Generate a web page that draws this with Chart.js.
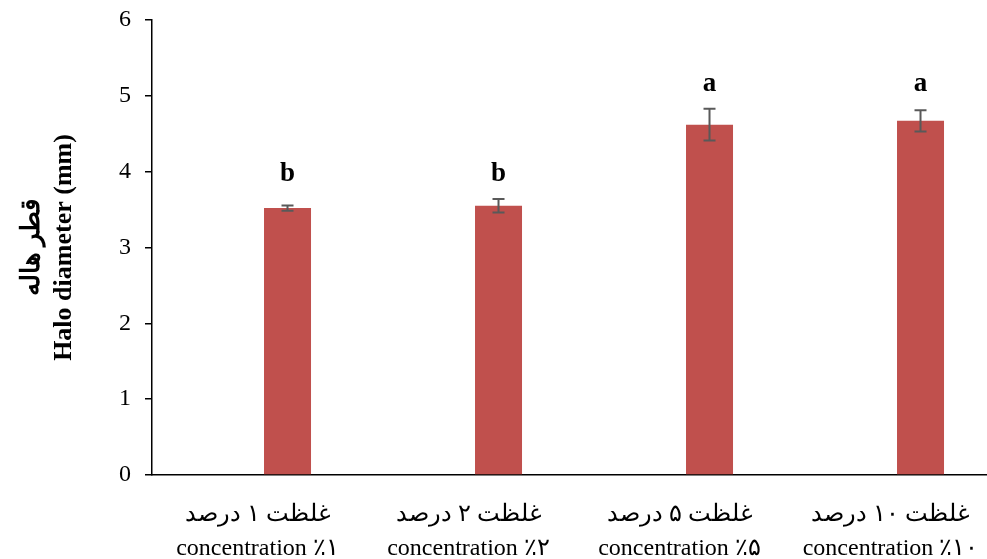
<!DOCTYPE html>
<html>
<head>
<meta charset="utf-8">
<script src="https://cdn.jsdelivr.net/npm/chart.js@4.4.0/dist/chart.umd.min.js"></script>
<style>
  html, body { margin: 0; padding: 0; background: #fff; overflow: hidden; }
  #wrap { width: 1000px; height: 559px; }
</style>
</head>
<body>
<div id="wrap"><canvas id="haloChart" width="1000" height="559"></canvas></div>
<script>
// halo diameter per concentration, with SE and letter groups
const categories = [
    ['غلظت ۱ درصد', 'concentration ٪۱'],
    ['غلظت ۲ درصد', 'concentration ٪۲'],
    ['غلظت ۵ درصد', 'concentration ٪۵'],
    ['غلظت ۱۰ درصد', 'concentration ٪۱۰']
];
const haloMeans = [3.52, 3.55, 4.62, 4.67];
const haloErrors = [0.035, 0.09, 0.21, 0.14];
const groupLetters = ['b', 'b', 'a', 'a'];
const yTicks = [0, 1, 2, 3, 4, 5, 6];

const serif = "'Liberation Serif', 'Times New Roman', serif";

// error bars + significance letters on the visible series
const errorBarPlugin = {
    id: 'errorBars',
    afterDatasetsDraw(chart) {
        const ctx = chart.ctx;
        const y = chart.scales.y;
        const meta = chart.getDatasetMeta(1);
        const tops = meta.data.map((bar, i) => y.getPixelForValue(haloMeans[i] + haloErrors[i]));

        ctx.save();
        ctx.strokeStyle = '#595959';
        ctx.lineWidth = 2;
        meta.data.forEach((bar, i) => {
            const yTop = tops[i];
            const yBot = y.getPixelForValue(haloMeans[i] - haloErrors[i]);
            ctx.beginPath();
            ctx.moveTo(bar.x, yTop);
            ctx.lineTo(bar.x, yBot);
            ctx.moveTo(bar.x - 6, yTop);
            ctx.lineTo(bar.x + 6, yTop);
            ctx.moveTo(bar.x - 6, yBot);
            ctx.lineTo(bar.x + 6, yBot);
            ctx.stroke();
        });

        // letters sit at a common height for each letter group
        ctx.fillStyle = '#000';
        ctx.font = 'bold 27px ' + serif;
        ctx.textAlign = 'center';
        ctx.textBaseline = 'middle';
        meta.data.forEach((bar, i) => {
            let top = tops[i];
            groupLetters.forEach((l, j) => {
                if (l === groupLetters[i]) top = Math.min(top, tops[j]);
            });
            ctx.fillText(groupLetters[i], bar.x, top - 25);
        });
        ctx.restore();
    }
};

new Chart(document.getElementById('haloChart'), {
    type: 'bar',
    data: {
        labels: categories,
        datasets: [
            {
                // empty series keeps the bar to the right of the category centre
                label: '',
                data: categories.map(() => null),
                backgroundColor: 'rgba(0,0,0,0)'
            },
            {
                label: 'Halo diameter',
                data: haloMeans,
                backgroundColor: '#C0504D'
            }
        ]
    },
    options: {
        responsive: false,
        animation: false,
        categoryPercentage: 0.569,
        barPercentage: 0.783,
        layout: { padding: { top: 20, right: 4, left: 0, bottom: 0 } },
        plugins: {
            legend: { display: false },
            tooltip: { enabled: false }
        },
        scales: {
            x: {
                grid: { display: false },
                border: { display: true, color: '#000', width: 1.5 },
                ticks: {
                    color: '#000',
                    font: { family: serif, size: 24, lineHeight: 1.4 },
                    padding: 15,
                    maxRotation: 0,
                    autoSkip: false
                },
                afterFit(scale) { scale.height = 84; }
            },
            y: {
                min: 0,
                max: 6,
                afterBuildTicks(scale) { scale.ticks = yTicks.map(v => ({ value: v })); },
                grid: {
                    drawOnChartArea: false,
                    drawTicks: true,
                    tickLength: 7,
                    color: '#000',
                    lineWidth: 1.5
                },
                border: { display: true, color: '#000', width: 1.5 },
                ticks: {
                    color: '#000',
                    font: { family: serif, size: 24 },
                    padding: 14
                },
                title: {
                    display: true,
                    text: ['قطر هاله', 'Halo diameter (mm)'],
                    color: '#000',
                    font: { family: serif, size: 26, weight: 'bold', lineHeight: 1.2 },
                    padding: { top: 17, bottom: 0 }
                },
                afterFit(scale) {
                    scale.width = 152;
                    scale.paddingTop = 0;
                    scale.paddingBottom = 0;
                }
            }
        }
    },
    plugins: [errorBarPlugin]
});
</script>
</body>
</html>
